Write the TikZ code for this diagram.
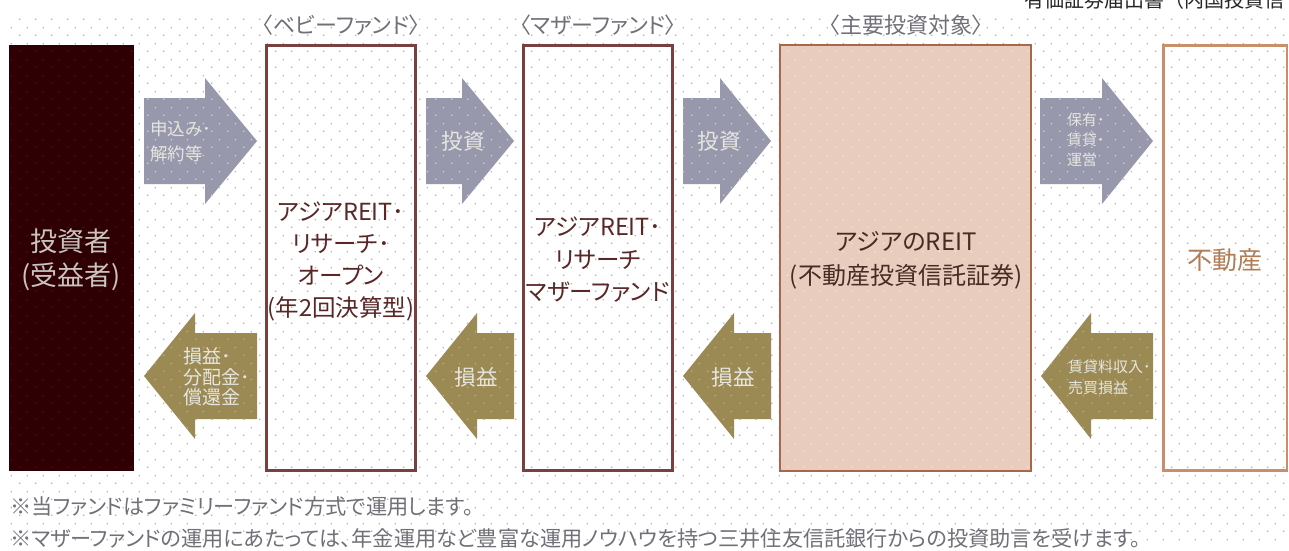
\documentclass[tikz,border=0pt]{standalone}
\usepackage{fontspec}
\usetikzlibrary{patterns}
\setmainfont[RawFeature={+palt}]{Noto Sans CJK JP}
\newfontfamily\fullwidthfont{Noto Sans CJK JP}
\definecolor{dkbox}{HTML}{2E0004}
\definecolor{babyline}{HTML}{7A3F3F}
\definecolor{mainfill}{HTML}{E8CDBE}
\definecolor{mainline}{HTML}{A8664C}
\definecolor{reline}{HTML}{C98F68}
\definecolor{arrgray}{HTML}{9898AC}
\definecolor{arrgold}{HTML}{9C8A55}
\definecolor{boxtext}{HTML}{5A2626}
\definecolor{mtext}{HTML}{4A2A24}
\definecolor{retext}{HTML}{B07C55}
\definecolor{capgray}{HTML}{707078}
\definecolor{arrtext}{HTML}{E6E6E0}
\newcommand{\fs}[2]{\fontsize{#1}{#2}\selectfont}
\pgfdeclarepatternformonly{dotgrid}{\pgfpoint{0pt}{0pt}}{\pgfpoint{16pt}{16pt}}{\pgfpoint{16pt}{16pt}}{%
  \pgfpathcircle{\pgfpoint{4pt}{4pt}}{0.9pt}%
  \pgfpathcircle{\pgfpoint{12pt}{12pt}}{0.9pt}%
  \pgfusepath{fill}}
\newcommand{\rightpath}[4]{(#1,#4-43) -- (#2,#4-43) -- (#2,#4-63) -- (#3,#4) -- (#2,#4+63) -- (#2,#4+43) -- (#1,#4+43) -- cycle}
\newcommand{\leftpath}[4]{(#3,#4-43) -- (#2,#4-43) -- (#2,#4-63) -- (#1,#4) -- (#2,#4+63) -- (#2,#4+43) -- (#3,#4+43) -- cycle}
\newcommand{\rarrow}[4]{\fill[arrgray] \rightpath{#1}{#2}{#3}{#4};
  \fill[pattern=dotgrid,pattern color=white!55!arrgray] \rightpath{#1}{#2}{#3}{#4};}
\newcommand{\larrow}[4]{\fill[arrgold] \leftpath{#1}{#2}{#3}{#4};
  \fill[pattern=dotgrid,pattern color=white!30!arrgold] \leftpath{#1}{#2}{#3}{#4};}
\tikzset{
  x=1pt,y=-1pt,
  lab/.style={inner sep=0pt,align=center,anchor=center},
  arrlab/.style={inner sep=0pt,align=left,anchor=west,text=arrtext},
  arrlabc/.style={lab,text=arrtext},
  headlab/.style={lab,text=capgray,font=\fs{22}{26}},
  note/.style={inner sep=0pt,anchor=west,text=capgray,font=\fs{21.2}{25}},
}
\begin{document}
\begin{tikzpicture}
\useasboundingbox (0,0) rectangle (1289,550);
\fill[white] (0,0) rectangle (1289,550);
\fill[pattern=dotgrid,pattern color=black!30] (6,14) rectangle (1289,545);
% investor
\fill[dkbox] (9,45) rectangle (134,471);
\fill[pattern=dotgrid,pattern color=red!45!black] (9,45) rectangle (134,471);
% main target
\fill[mainfill] (780,45) rectangle (1031,471);
\fill[pattern=dotgrid,pattern color=white!60!yellow!70!mainfill] (780,45) rectangle (1031,471);
\draw[mainline,line width=1.8] (780,45) rectangle (1031,471);
% outlined boxes
\draw[babyline,line width=2.2] (266.5,45.5) rectangle (415.5,470.5);
\draw[babyline,line width=2.2] (523.5,45.5) rectangle (672.5,470.5);
\draw[reline,line width=2.2] (1163.5,45.5) rectangle (1287,470.5);
% block arrows
\rarrow{144}{205}{257}{141}
\rarrow{426}{462}{514}{141}
\rarrow{683}{720}{771}{141}
\rarrow{1040}{1102}{1153}{141}
\larrow{144}{195}{257}{376}
\larrow{426}{477}{514}{376}
\larrow{683}{734}{771}{376}
\larrow{1041}{1091}{1153}{376}
% box texts
\node[lab,text=arrtext!85!dkbox,font=\fs{27}{34}] (investor) at (71,260) {投資者\\(受益者)};
\node[lab,text=boxtext,font=\fs{23.5}{32}] (baby) at (341,261) {アジアREIT･\\リサーチ･\\オープン\\(年2回決算型)};
\node[lab,text=boxtext,font=\fs{23.5}{32.5}] (mother) at (598,260) {アジアREIT･\\リサーチ\\マザーファンド};
\node[lab,text=mtext,font=\fs{24}{34}] (target) at (906,260) {アジアのREIT\\(不動産投資信託証券)};
\node[lab,text=retext,font=\fs{25}{30}] (estate) at (1225,260) {不動産};
% headings
\node[headlab] (h1) at (341,25) {〈ベビーファンド〉};
\node[headlab] (h2) at (598,25) {〈マザーファンド〉};
\node[headlab] (h3) at (906,25) {〈主要投資対象〉};
% arrow labels
\node[arrlab,font=\fs{17.5}{25}] (a1) at (150,141) {申込み･\\解約等};
\node[arrlabc,font=\fs{21.5}{26}] (a2) at (463,141) {投資};
\node[arrlabc,font=\fs{21.5}{26}] (a3) at (719,141) {投資};
\node[arrlab,font=\fs{15}{20}] (a4) at (1067,140) {保有･\\賃貸･\\運営};
\node[arrlab,font=\fs{19}{20.5}] (b1) at (183,377) {損益･\\分配金･\\償還金};
\node[arrlabc,font=\fs{21.5}{26}] (b2) at (476,377) {損益};
\node[arrlabc,font=\fs{21.5}{26}] (b3) at (733,377) {損益};
\node[arrlab,font=\fs{15}{21}] (b4) at (1068,377) {賃貸料収入･\\売買損益};
% footnotes
\node[note] (n1) at (10,506) {※当ファンドはファミリーファンド方式で運用します。};
\node[note] (n2) at (10,538) {※マザーファンドの運用にあたっては、年金運用など豊富な運用ノウハウを持つ三井住友信託銀行からの投資助言を受けます。};
% cropped running head
\begin{scope}
\clip (0,0) rectangle (1289,550);
\node[inner sep=0pt,anchor=west,text=black!85,font=\fullwidthfont\fs{20}{24}] (run) at (1024,0) {有価証券届出書（内国投資信};
\end{scope}
\end{tikzpicture}
\end{document}
